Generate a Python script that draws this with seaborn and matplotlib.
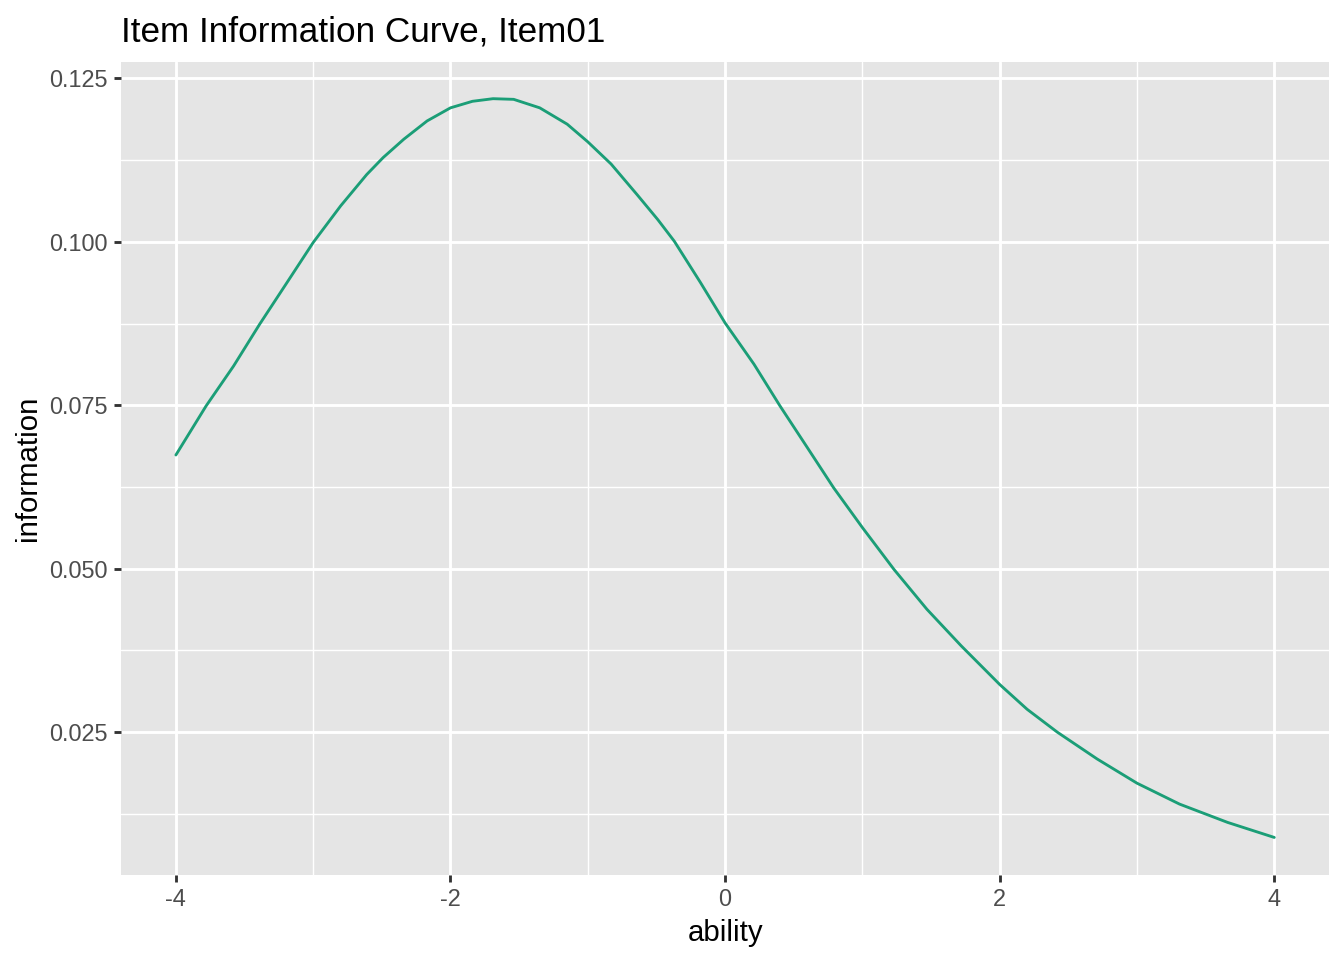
import numpy as np
import pandas as pd
import seaborn as sns
import matplotlib.pyplot as plt
from matplotlib.ticker import FixedLocator

# values
ability = [-4.00, -3.78, -3.58, -3.39, -3.19, -3.00, -2.80, -2.61, -2.49,
           -2.34, -2.17, -2.00, -1.84, -1.69, -1.54, -1.35, -1.15, -1.00,
           -0.83, -0.64, -0.49, -0.37, -0.18, 0.00, 0.21, 0.40, 0.60, 0.79,
           1.00, 1.23, 1.47, 1.72, 2.00, 2.20, 2.42, 2.71, 3.00, 3.31, 3.66,
           4.00]
information = [0.0674, 0.0749, 0.0810, 0.0874, 0.0938, 0.0999, 0.1055, 0.1103,
               0.1129, 0.1157, 0.1185, 0.1205, 0.1215, 0.1219, 0.1218, 0.1205,
               0.1180, 0.1153, 0.1119, 0.1072, 0.1034, 0.1001, 0.0938, 0.0876,
               0.0813, 0.0749, 0.0685, 0.0624, 0.0563, 0.0499, 0.0438, 0.0382,
               0.0323, 0.0285, 0.0250, 0.0209, 0.0172, 0.0140, 0.0112, 0.0089]

x_ticks = [-4, -2, 0, 2, 4]
x_minor = [-3, -1, 1, 3]
y_ticks = [0.025, 0.050, 0.075, 0.100, 0.125]
y_minor = [0.0125, 0.0375, 0.0625, 0.0875, 0.1125]

df = pd.DataFrame({"ability": ability, "information": information})

sns.set_theme(style="darkgrid")
plt.rcParams["font.family"] = ["Liberation Sans", "DejaVu Sans"]

fig = plt.figure(figsize=(7, 5), dpi=192)
ax = fig.add_axes([0.090, 0.0885, 0.899, 0.8465])
ax.set_facecolor("#E5E5E5")

sns.lineplot(data=df, x="ability", y="information", color="#1B9E77",
             linewidth=1.07, ax=ax)

ax.set_xlim(-4.4, 4.4)
ax.set_ylim(0.00315, 0.12745)
ax.xaxis.set_major_locator(FixedLocator(x_ticks))
ax.xaxis.set_minor_locator(FixedLocator(x_minor))
ax.yaxis.set_major_locator(FixedLocator(y_ticks))
ax.yaxis.set_minor_locator(FixedLocator(y_minor))
ax.set_xticklabels(["-4", "-2", "0", "2", "4"])
ax.set_yticklabels(["0.025", "0.050", "0.075", "0.100", "0.125"])

ax.grid(which="major", color="white", linewidth=1.07)
ax.grid(which="minor", color="white", linewidth=0.53)
ax.set_axisbelow(True)
for s in ax.spines.values():
    s.set_visible(False)

ax.tick_params(which="major", length=2.75, width=1.07, color="#333333",
               labelsize=8.8, labelcolor="#4D4D4D", pad=2.2,
               bottom=True, left=True)
ax.tick_params(which="minor", length=0)

ax.set_xlabel("ability", fontsize=11, color="black", labelpad=2.75)
ax.set_ylabel("information", fontsize=11, color="black", labelpad=2.75)
ax.set_title("Item Information Curve, Item01", loc="left", fontsize=13.2,
             color="black", pad=8)

fig.savefig("out.png", dpi=192)
